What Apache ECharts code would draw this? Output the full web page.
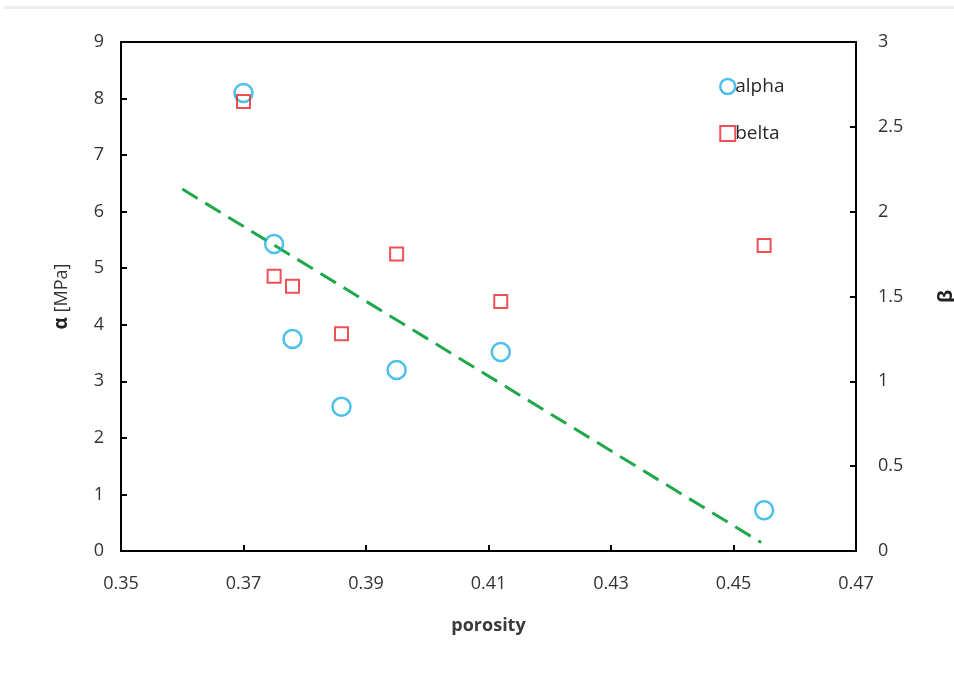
<!DOCTYPE html>
<html><head><meta charset="utf-8">
<script src="https://cdn.jsdelivr.net/npm/echarts@6/dist/echarts.min.js"></script>
<style>html,body{margin:0;padding:0;background:#fff}#c{width:954px;height:694px}</style>
</head><body><div id="c"></div>
<script>
const porosity = [0.370, 0.375, 0.378, 0.386, 0.395, 0.412, 0.455];
const alphaVals = [8.10, 5.43, 3.75, 2.55, 3.20, 3.52, 0.72];
const betaVals = [2.65, 1.62, 1.56, 1.28, 1.75, 1.47, 1.80];
const trendX = [0.360, 0.4545];
const trendY = [6.40, 0.15];
const xTicks = [0.35, 0.37, 0.39, 0.41, 0.43, 0.45, 0.47];

const font = 'Open Sans';
const chart = echarts.init(document.getElementById('c'));
chart.setOption({
  backgroundColor: '#fff',
  animation: false,
  graphic: [{type:'rect', shape:{x:4,y:6,width:950,height:3}, style:{fill:'#eeeeee'}}],
  grid: {left:121, right:98, top:42, bottom:143, show:true, borderColor:'#000', borderWidth:2, backgroundColor:'transparent', outerBoundsMode:'none', containLabel:false},
  legend: {
    orient:'vertical', left:714, top:72, itemGap:28, itemWidth:15, itemHeight:15,
    textStyle:{fontFamily:font, fontSize:19, color:'#2a2a2a', padding:[0,0,0,-5]},
    data:[
      {name:'alpha', icon:'circle', itemStyle:{color:'#fff', borderColor:'#1fb0e6', borderWidth:2.5}},
      {name:'belta', icon:'rect', itemStyle:{color:'#fff', borderColor:'#e8262a', borderWidth:2}}
    ]
  },
  xAxis: {
    type:'value', min:0.35, max:0.47, interval:0.02,
    name:'porosity', nameLocation:'middle', nameGap:66,
    nameTextStyle:{fontFamily:font, fontSize:18, fontWeight:'bold', color:'#3a3a3a'},
    axisLine:{lineStyle:{color:'#000', width:2}},
    axisTick:{inside:true, length:6, lineStyle:{color:'#000', width:2}},
    axisLabel:{fontFamily:font, fontSize:18, color:'#333', margin:24,
      formatter:v=>{const t=xTicks.find(x=>Math.abs(x-v)<1e-6);return t!==undefined?t.toFixed(2):'';}},
    splitLine:{show:false}
  },
  yAxis: [{
    type:'value', min:0, max:9, interval:1, position:'left',
    name:'{a|α} [MPa]', nameLocation:'middle', nameGap:50, nameRotate:90,
    nameTextStyle:{fontFamily:font, fontSize:18, color:'#333', rich:{a:{fontFamily:font, fontSize:19, fontWeight:'bold', color:'#222'}}},
    axisLine:{show:true, lineStyle:{color:'#000', width:2}},
    axisTick:{show:true, inside:true, length:6, lineStyle:{color:'#000', width:2}},
    axisLabel:{fontFamily:font, fontSize:18, color:'#333', margin:17},
    splitLine:{show:false}
  },{
    type:'value', min:0, max:3, interval:0.5, position:'right',
    name:'β', nameLocation:'middle', nameGap:80, nameRotate:90,
    nameTextStyle:{fontFamily:font, fontSize:20, fontWeight:'bold', color:'#222'},
    axisLine:{show:true, lineStyle:{color:'#000', width:2}},
    axisTick:{show:true, inside:true, length:6, lineStyle:{color:'#000', width:2}},
    axisLabel:{fontFamily:font, fontSize:18, color:'#333', margin:22},
    splitLine:{show:false}
  }],
  series: [
    {name:'trend', type:'line', yAxisIndex:0, data:trendX.map((x,i)=>[x,trendY[i]]), symbol:'none',
      lineStyle:{color:'#1ea84a', width:3, type:[18,9]}, z:1},
    {name:'alpha', type:'scatter', yAxisIndex:0, data:porosity.map((x,i)=>[x,alphaVals[i]]),
      symbol:'circle', symbolSize:18, itemStyle:{color:'rgba(255,255,255,0)', borderColor:'#1fb0e6', borderWidth:2.5}, z:3},
    {name:'belta', type:'scatter', yAxisIndex:1, data:porosity.map((x,i)=>[x,betaVals[i]]),
      symbol:'rect', symbolSize:13, itemStyle:{color:'rgba(255,255,255,0)', borderColor:'#e8262a', borderWidth:2}, z:4}
  ]
});
</script></body></html>
